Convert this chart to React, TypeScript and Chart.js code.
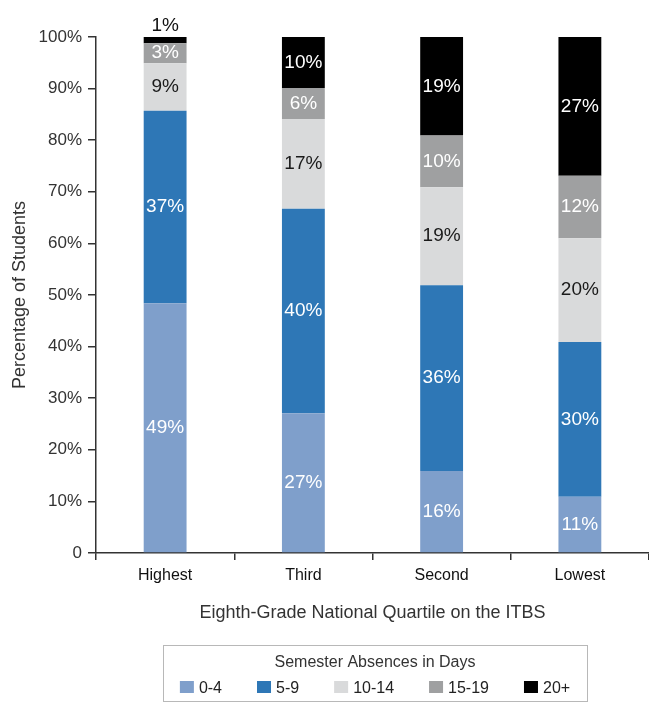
import React, { useEffect, useRef } from "react";
import { Chart, registerables } from "chart.js";

Chart.register(...registerables);

const categories = ["Highest", "Third", "Second", "Lowest"];
const seriesNames = ["0-4", "5-9", "10-14", "15-19", "20+"];

// bar segment heights (percent)
const absences0to4 = [48.4, 27.1, 15.9, 10.9];
const absences5to9 = [37.3, 39.6, 36.0, 30.0];
const absences10to14 = [9.2, 17.4, 19.0, 20.1];
const absences15to19 = [3.9, 6.0, 10.0, 12.1];
const absences20plus = [1.2, 9.9, 19.1, 26.9];

// printed labels
const labels0to4 = ["49%", "27%", "16%", "11%"];
const labels5to9 = ["37%", "40%", "36%", "30%"];
const labels10to14 = ["9%", "17%", "19%", "20%"];
const labels15to19 = ["3%", "6%", "10%", "12%"];
const labels20plus = ["1%", "10%", "19%", "27%"];

const yTickValues = [0, 10, 20, 30, 40, 50, 60, 70, 80, 90, 100];

const seriesColors = ["#7f9fcb", "#2e77b6", "#d9dadb", "#9fa0a1", "#000000"];
const labelColors = ["#ffffff", "#ffffff", "#1a1a1a", "#ffffff", "#ffffff"];

const FONT = "'Liberation Sans', Arial, sans-serif";

const seriesValues = [absences0to4, absences5to9, absences10to14, absences15to19, absences20plus];
const seriesLabels = [labels0to4, labels5to9, labels10to14, labels15to19, labels20plus];

const segmentLabelPlugin = {
  id: "segmentLabels",
  afterDatasetsDraw(chart: any) {
    const ctx = chart.ctx;
    ctx.save();
    ctx.font = `19px ${FONT}`;
    ctx.textAlign = "center";
    ctx.textBaseline = "middle";
    chart.data.datasets.forEach((ds: any, di: number) => {
      const meta = chart.getDatasetMeta(di);
      meta.data.forEach((bar: any, i: number) => {
        const txt = seriesLabels[di][i];
        const h = Math.abs(bar.base - bar.y);
        if (h < 12) {
          ctx.fillStyle = "#111111";
          ctx.fillText(txt, bar.x, bar.y - 11);
        } else {
          ctx.fillStyle = labelColors[di];
          ctx.fillText(txt, bar.x, (bar.y + bar.base) / 2);
        }
      });
    });
    ctx.restore();
  },
};

const boxLegendPlugin = {
  id: "boxLegend",
  afterDraw(chart: any) {
    const ctx = chart.ctx;
    const left = 163;
    const right = 587;
    const top = 645;
    const bottom = 701;
    ctx.save();
    ctx.strokeStyle = "#b8b8b8";
    ctx.lineWidth = 1;
    ctx.strokeRect(left + 0.5, top + 0.5, right - left, bottom - top);
    const cx = (left + right) / 2;
    ctx.fillStyle = "#333333";
    ctx.font = `16px ${FONT}`;
    ctx.textAlign = "center";
    ctx.textBaseline = "middle";
    ctx.fillText("Semester Absences in Days", cx, 663);

    const sw = 14;
    const sh = 12;
    const gapText = 5;
    const gapItem = 35;
    const widths = chart.data.datasets.map((ds: any) => sw + gapText + ctx.measureText(ds.label).width);
    const total = widths.reduce((a: number, b: number) => a + b, 0) + gapItem * (widths.length - 1);
    let x = cx - total / 2;
    ctx.textAlign = "left";
    chart.data.datasets.forEach((ds: any, i: number) => {
      ctx.fillStyle = ds.backgroundColor;
      ctx.fillRect(x, 681, sw, sh);
      ctx.fillStyle = "#222222";
      ctx.fillText(ds.label, x + sw + gapText, 689);
      x += widths[i] + gapItem;
    });
    ctx.restore();
  },
};

export default function App() {
  const canvasRef = useRef<HTMLCanvasElement | null>(null);

  useEffect(() => {
    const canvas = canvasRef.current;
    if (!canvas) return;
    const chart = new Chart(canvas, {
      type: "bar",
      data: {
        labels: categories,
        datasets: seriesNames.map((name, i) => ({
          label: name,
          data: seriesValues[i],
          backgroundColor: seriesColors[i],
          borderWidth: 0,
          categoryPercentage: 1,
          barPercentage: 0.31,
        })),
      },
      options: {
        animation: false,
        responsive: false,
        devicePixelRatio: 1,
        layout: { padding: { top: 37, right: 0, bottom: 61, left: 0 } },
        plugins: {
          legend: { display: false },
          tooltip: { enabled: false },
        },
        scales: {
          x: {
            stacked: true,
            grid: {
              display: true,
              drawOnChartArea: false,
              drawTicks: true,
              tickLength: 7,
              color: "#333333",
              lineWidth: 1.5,
              offset: true,
            },
            border: { display: true, color: "#333333", width: 1.5 },
            ticks: {
              color: "#111111",
              font: { family: FONT, size: 16 },
              padding: 6,
            },
            title: {
              display: true,
              text: "Eighth-Grade National Quartile on the ITBS",
              color: "#333333",
              font: { family: FONT, size: 18 },
              padding: { top: 0, bottom: 21 },
            },
            afterFit: (s: any) => {
              s.height = 92;
            },
          },
          y: {
            stacked: true,
            min: 0,
            max: 100,
            afterBuildTicks: (s: any) => {
              s.ticks = yTickValues.map((v) => ({ value: v }));
            },
            ticks: {
              color: "#333333",
              font: { family: FONT, size: 17 },
              padding: 6,
              callback: (v: any) => (Number(v) === 0 ? "0" : `${v}%`),
            },
            grid: {
              display: true,
              drawOnChartArea: false,
              drawTicks: true,
              tickLength: 8,
              color: "#333333",
              lineWidth: 1.5,
            },
            border: { display: true, color: "#333333", width: 1.5 },
            title: {
              display: true,
              text: "Percentage of Students",
              color: "#333333",
              font: { family: FONT, size: 18 },
              padding: { top: 9, bottom: 0 },
            },
            afterFit: (s: any) => {
              s.width = 96;
            },
          },
        },
      },
      plugins: [segmentLabelPlugin, boxLegendPlugin],
    } as any);
    return () => chart.destroy();
  }, []);

  return (
    <div style={{ position: "absolute", left: 0, top: 0, width: 649, height: 706, background: "#ffffff" }}>
      <canvas ref={canvasRef} width={649} height={706} style={{ display: "block", width: 649, height: 706 }} />
    </div>
  );
}
